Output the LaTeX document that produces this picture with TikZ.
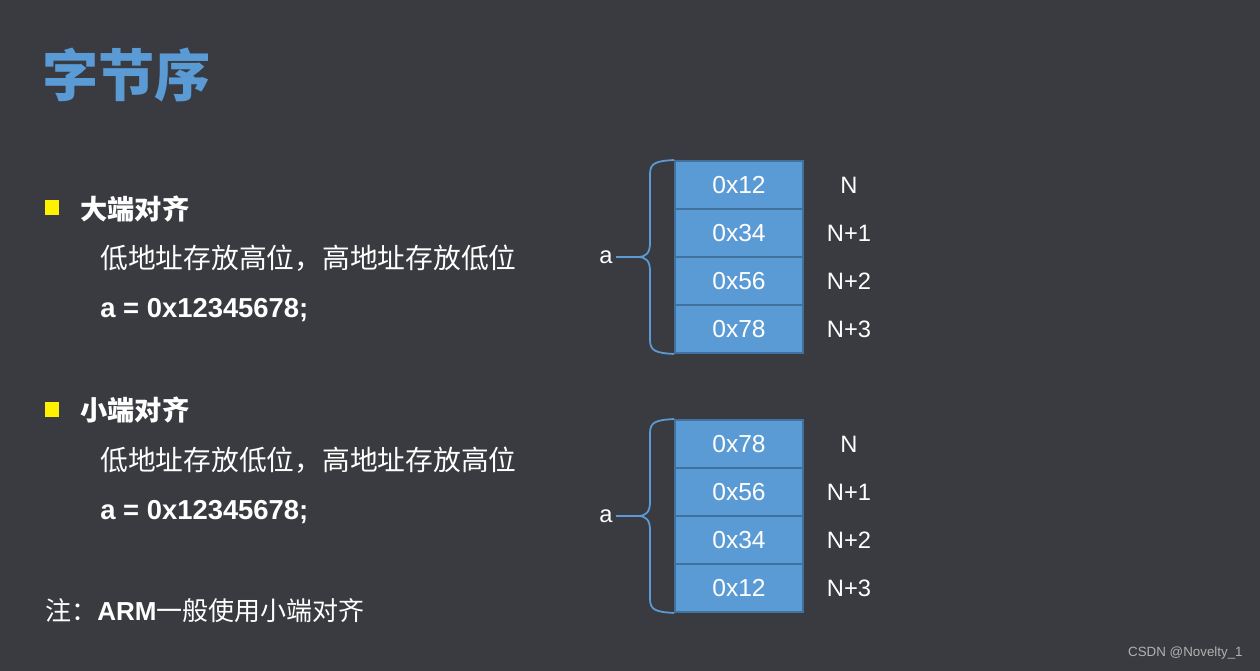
\documentclass[tikz,border=0pt]{standalone}
\usepackage{fontspec}
\setmainfont{Liberation Sans}
\newfontfamily\cjk{Noto Sans CJK SC}
\usetikzlibrary{positioning}
\definecolor{slidebg}{RGB}{58,59,64}
\definecolor{cellblue}{RGB}{91,155,213}
\definecolor{cellline}{RGB}{65,113,156}
\definecolor{markgray}{RGB}{178,178,178}
\begin{document}
\begin{tikzpicture}[x=0.02cm,y=-0.02cm,
  every node/.style={text=white,inner sep=0pt},
  cell/.style={draw=cellline,line width=1.1pt,fill=cellblue,minimum width=2.56cm,minimum height=0.96cm,font=\fontsize{14}{16}\selectfont},
  addr/.style={font=\fontsize{13.5}{16}\selectfont},
  body/.style={anchor=west,font=\cjk\fontsize{15.8}{18}\selectfont},
  head/.style={anchor=west,font=\cjk\bfseries\fontsize{15.5}{18}\selectfont},
  code/.style={anchor=west,font=\bfseries\fontsize{15.6}{18}\selectfont},
  bullet/.style={fill=yellow,minimum size=0.3cm},
  bracket/.style={draw=cellblue,line width=1pt}]
  \fill[slidebg] (0,0) rectangle (1260,671);
  \useasboundingbox (0,0) rectangle (1260,671);
  \node[anchor=west,text=cellblue,font=\cjk\bfseries\fontsize{32}{36}\selectfont] (title) at (42,75) {字节序};
  % big endian
  \node[bullet] (bulbig) at (52,208) {};
  \node[head] (big) at (80,209) {大端对齐};
  \node[body] (bigrule) at (100,258) {低地址存放高位，高地址存放低位};
  \node[code] (bigval) at (100,310) {a = 0x12345678;};
  \foreach \v/\n [count=\i] in {12/N,34/N+1,56/N+2,78/N+3} {
    \node[cell] (big\i) at (739,{137+48*\i}) {0x\v};
    \node[addr] (bigaddr\i) at (849,{137+48*\i}) {\n};
  }
  \draw[bracket] (big1.north west) .. controls (656,161) and (650,163) .. (650,174) -- (650,243)
    .. controls (650,253) and (646,257) .. (638,257) coordinate (bigtip)
    .. controls (646,257) and (650,261) .. (650,271) -- (650,340)
    .. controls (650,351) and (656,353) .. (big4.south west);
  \node[addr,inner sep=1.5pt] (bigvar) at (606,257) {a};
  \draw[bracket] (bigvar.east) -- (bigtip);
  % little endian
  \node[bullet] (bullit) at (52,410) {};
  \node[head] (lit) at (80,410) {小端对齐};
  \node[body] (litrule) at (100,460) {低地址存放低位，高地址存放高位};
  \node[code] (litval) at (100,512) {a = 0x12345678;};
  \foreach \v/\n [count=\i] in {78/N,56/N+1,34/N+2,12/N+3} {
    \node[cell] (lit\i) at (739,{396+48*\i}) {0x\v};
    \node[addr] (litaddr\i) at (849,{396+48*\i}) {\n};
  }
  \draw[bracket] (lit1.north west) .. controls (656,420) and (650,422) .. (650,433) -- (650,502)
    .. controls (650,512) and (646,516) .. (638,516) coordinate (littip)
    .. controls (646,516) and (650,520) .. (650,530) -- (650,599)
    .. controls (650,610) and (656,612) .. (lit4.south west);
  \node[addr,inner sep=1.5pt] (litvar) at (606,516) {a};
  \draw[bracket] (litvar.east) -- (littip);
  \node[body,font=\cjk\fontsize{14.8}{18}\selectfont] (note) at (45,611) {注：{\normalfont\bfseries ARM}一般使用小端对齐};
  \node[anchor=east,text=markgray,font=\fontsize{7.6}{9}\selectfont] (mark) at (1243,653) {CSDN @Novelty\_1};
\end{tikzpicture}
\end{document}
